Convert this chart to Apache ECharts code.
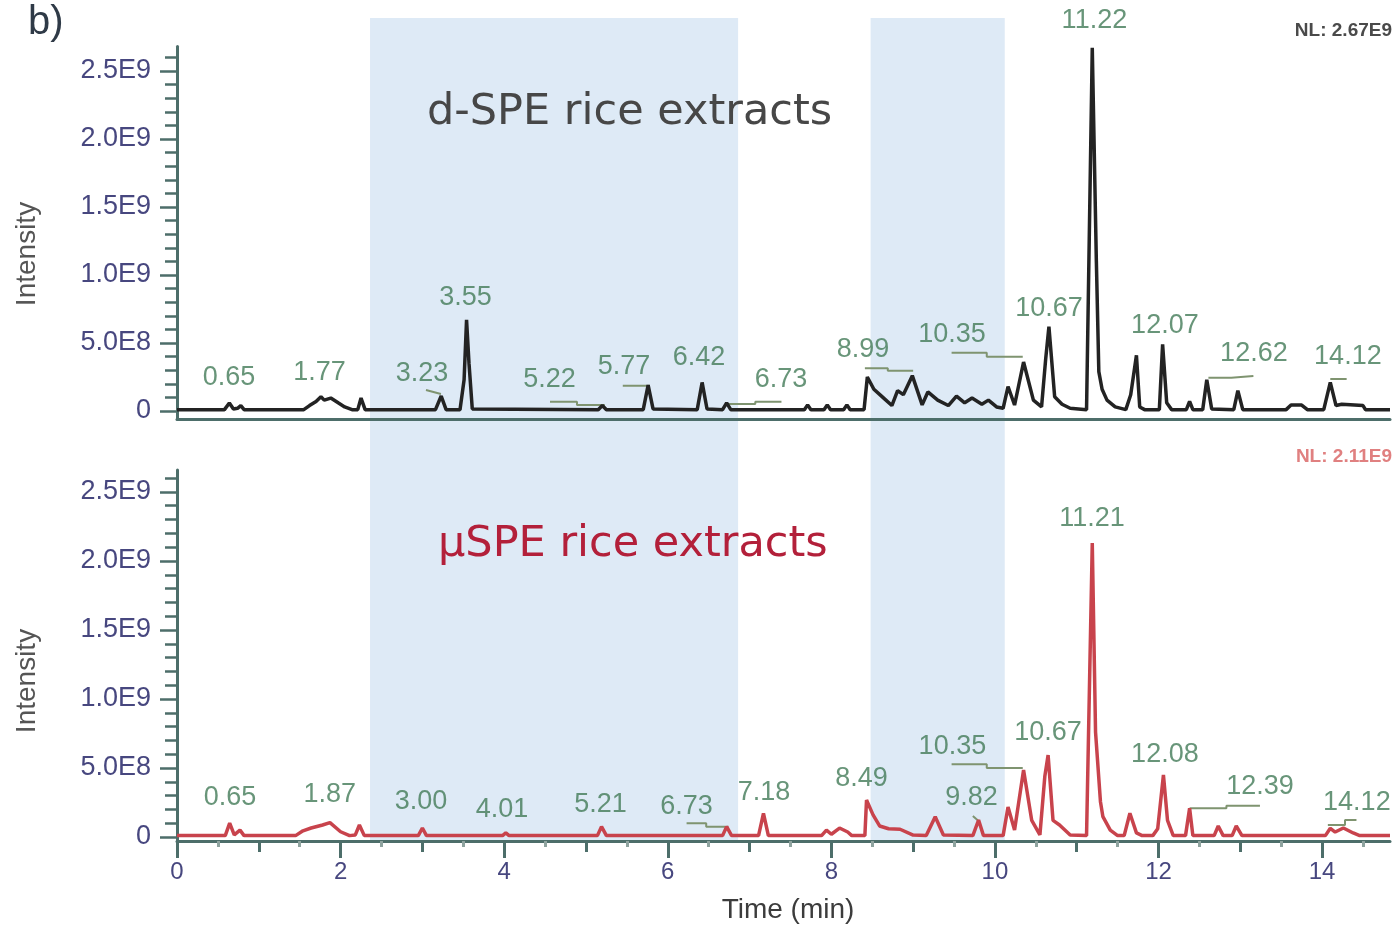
<!DOCTYPE html>
<html><head><meta charset="utf-8">
<script src="https://cdn.jsdelivr.net/npm/echarts@6/dist/echarts.min.js"></script>
<style>html,body{margin:0;padding:0;background:#fff}#c{width:1393px;height:930px}</style>
</head><body><div id="c"></div><script>
// ---------- data ----------
const xMin = 0, xMax = 14.83;
const xTickValues = [0, 2, 4, 6, 8, 10, 12, 14];
const xTickLabels = ['0', '2', '4', '6', '8', '10', '12', '14'];
const xOddTicks = [1, 3, 5, 7, 9, 11, 13];
const xHalfTicks = [0.5, 1.5, 2.5, 3.5, 4.5, 5.5, 6.5, 7.5, 8.5, 9.5, 10.5, 11.5, 12.5, 13.5, 14.5];
const yTickValues = [0, 5e8, 1e9, 1.5e9, 2e9, 2.5e9];
const yTickLabels = ['0', '5.0E8', '1.0E9', '1.5E9', '2.0E9', '2.5E9'];
const yMinorTicks = [1e8, 2e8, 3e8, 4e8, 6e8, 7e8, 8e8, 9e8, 1.1e9, 1.2e9, 1.3e9, 1.4e9, 1.6e9, 1.7e9, 1.8e9, 1.9e9, 2.1e9, 2.2e9, 2.3e9, 2.4e9, 2.6e9];
const bandRanges = [[2.36, 6.86], [8.48, 10.12]];

// d-SPE trace: [time (min), intensity]
const topTrace = [
 [0,0.1e8],[0.58,0.1e8],[0.64,0.59e8],[0.69,0.15e8],[0.74,0.2e8],[0.78,0.4e8],[0.82,0.1e8],
 [1.55,0.1e8],[1.62,0.4e8],[1.70,0.7e8],[1.76,1.05e8],[1.80,0.8e8],[1.88,0.95e8],[1.97,0.6e8],[2.05,0.3e8],[2.14,0.1e8],
 [2.21,0.1e8],[2.25,0.95e8],[2.30,0.1e8],[3.16,0.1e8],[3.23,1.1e8],[3.29,0.1e8],
 [3.46,0.1e8],[3.51,2.3e8],[3.54,6.7e8],[3.57,3.5e8],[3.61,0.15e8],
 [5.15,0.1e8],[5.20,0.4e8],[5.25,0.1e8],[5.70,0.1e8],[5.76,1.9e8],[5.82,0.15e8],
 [6.36,0.1e8],[6.42,2.1e8],[6.48,0.15e8],[6.67,0.1e8],[6.72,0.6e8],[6.77,0.1e8],
 [7.67,0.1e8],[7.71,0.45e8],[7.75,0.1e8],[7.91,0.1e8],[7.95,0.45e8],[7.99,0.1e8],[8.15,0.1e8],[8.19,0.45e8],[8.23,0.1e8],
 [8.40,0.1e8],[8.44,2.5e8],[8.52,1.6e8],[8.63,1.0e8],[8.74,0.4e8],[8.81,1.5e8],[8.88,1.2e8],[8.99,2.6e8],[9.11,0.45e8],
 [9.18,1.4e8],[9.30,0.8e8],[9.43,0.4e8],[9.53,1.1e8],[9.63,0.6e8],[9.72,0.95e8],[9.84,0.5e8],[9.92,0.8e8],[10.02,0.3e8],
 [10.10,0.2e8],[10.16,1.8e8],[10.24,0.44e8],[10.35,3.6e8],[10.47,0.8e8],[10.57,0.3e8],[10.62,3.8e8],[10.66,6.2e8],
 [10.73,1.05e8],[10.82,0.5e8],[10.92,0.2e8],[11.12,0.1e8],[11.19,26.7e8],[11.24,11.0e8],[11.27,2.9e8],[11.31,1.6e8],
 [11.37,0.8e8],[11.47,0.3e8],[11.60,0.1e8],[11.66,1.2e8],[11.73,4.1e8],[11.77,0.3e8],[11.83,0.1e8],
 [12.01,0.1e8],[12.05,4.9e8],[12.10,0.6e8],[12.16,0.1e8],[12.34,0.1e8],[12.38,0.7e8],[12.42,0.1e8],
 [12.54,0.1e8],[12.59,2.3e8],[12.65,0.15e8],[12.92,0.1e8],[12.97,1.5e8],[13.03,0.1e8],
 [13.56,0.1e8],[13.62,0.44e8],[13.75,0.44e8],[13.82,0.1e8],[14.02,0.1e8],[14.10,2.1e8],[14.17,0.4e8],
 [14.24,0.5e8],[14.50,0.4e8],[14.53,0.1e8],[14.83,0.1e8]
];
// µSPE trace
const bottomTrace = [
 [0,0.1e8],[0.59,0.1e8],[0.644,1.0e8],[0.70,0.15e8],[0.77,0.5e8],[0.82,0.1e8],
 [1.45,0.1e8],[1.54,0.45e8],[1.64,0.65e8],[1.78,0.87e8],[1.87,1.04e8],[2.0,0.38e8],[2.11,0.1e8],[2.18,0.15e8],[2.23,0.87e8],[2.29,0.1e8],
 [2.95,0.1e8],[3.0,0.65e8],[3.05,0.1e8],[3.98,0.1e8],[4.02,0.3e8],[4.06,0.1e8],
 [5.14,0.1e8],[5.19,0.75e8],[5.25,0.1e8],[6.67,0.1e8],[6.72,0.75e8],[6.78,0.1e8],
 [7.11,0.1e8],[7.17,1.72e8],[7.23,0.1e8],[7.88,0.1e8],[7.94,0.5e8],[8.0,0.2e8],[8.1,0.65e8],[8.2,0.36e8],[8.25,0.1e8],
 [8.41,0.1e8],[8.43,2.68e8],[8.51,1.6e8],[8.59,0.8e8],[8.70,0.6e8],[8.84,0.56e8],[9.0,0.14e8],[9.16,0.1e8],
 [9.27,1.47e8],[9.37,0.15e8],[9.73,0.1e8],[9.80,1.23e8],[9.86,0.1e8],[10.10,0.1e8],[10.16,2.17e8],[10.24,0.5e8],
 [10.35,4.85e8],[10.45,1.2e8],[10.55,0.15e8],[10.61,4.4e8],[10.65,5.94e8],[10.71,1.2e8],[10.79,0.87e8],[10.92,0.14e8],
 [11.12,0.1e8],[11.19,21.3e8],[11.23,7.6e8],[11.29,2.56e8],[11.32,1.47e8],[11.41,0.5e8],[11.50,0.1e8],
 [11.58,0.1e8],[11.65,1.72e8],[11.73,0.3e8],[11.80,0.1e8],[11.93,0.1e8],[11.99,0.6e8],[12.06,4.49e8],[12.11,1.2e8],[12.18,0.1e8],
 [12.33,0.1e8],[12.38,2.08e8],[12.42,0.1e8],[12.68,0.1e8],[12.73,0.8e8],[12.79,0.1e8],[12.90,0.1e8],[12.95,0.8e8],[13.02,0.1e8],
 [14.04,0.1e8],[14.1,0.63e8],[14.16,0.36e8],[14.26,0.65e8],[14.38,0.29e8],[14.46,0.1e8],[14.83,0.1e8]
];

const topLabelText = ['0.65','1.77','3.23','3.55','5.22','5.77','6.42','6.73','8.99','10.35','10.67','11.22','12.07','12.62','14.12'];
const topLabelTime = [0.636,1.742,2.995,3.527,4.554,5.465,6.381,7.384,8.386,9.474,10.66,11.216,12.078,13.166,14.315];
const topLabelIntensity = [2.43e8,2.83e8,2.79e8,8.31e8,2.28e8,3.27e8,3.93e8,2.28e8,4.49e8,5.59e8,7.54e8,28.68e8,6.29e8,4.23e8,4.0e8];

const bottomLabelText = ['0.65','1.87','3.00','4.01','5.21','6.73','7.18','8.49','9.82','10.35','10.67','11.21','12.08','12.39','14.12'];
const bottomLabelTime = [0.648,1.867,2.983,3.973,5.177,6.229,7.176,8.368,9.713,9.48,10.648,11.186,12.078,13.24,14.425];
const bottomLabelIntensity = [2.83e8,3.04e8,2.57e8,1.96e8,2.32e8,2.21e8,3.19e8,4.2e8,2.83e8,6.56e8,7.54e8,23.04e8,5.94e8,3.66e8,2.5e8];

const topLeaders = [
 [[3.044,1.54e8],[3.227,1.25e8]],
 [[4.56,0.68e8],[4.89,0.68e8],[4.89,0.44e8],[5.23,0.44e8]],
 [[5.45,1.86e8],[5.78,1.86e8]],
 [[6.72,0.51e8],[7.07,0.51e8],[7.07,0.68e8],[7.39,0.68e8]],
 [[8.41,3.14e8],[8.69,3.14e8],[8.69,2.96e8],[9.0,2.96e8]],
 [[9.47,4.29e8],[9.9,4.29e8],[9.9,3.99e8],[10.34,3.99e8]],
 [[12.61,2.45e8],[12.89,2.45e8],[12.89,2.57e8],[13.16,2.57e8]],
 [[14.1,2.35e8],[14.3,2.35e8]]
];
const bottomLeaders = [
 [[6.23,0.99e8],[6.47,0.99e8],[6.47,0.75e8],[6.74,0.75e8]],
 [[9.73,1.52e8],[9.80,1.16e8]],
 [[9.47,5.27e8],[9.9,5.27e8],[9.9,5.0e8],[10.34,5.0e8]],
 [[12.38,2.08e8],[12.83,2.08e8],[12.83,2.27e8],[13.24,2.27e8]],
 [[14.07,0.87e8],[14.28,0.87e8],[14.28,1.23e8],[14.42,1.23e8]]
];

// ---------- style ----------
const FONT = '"Liberation Sans", Arial, sans-serif';
const axisColor = '#4d6e6a';
const tickLabelColor = '#47477f';
const peakLabelColor = '#427a58';
const leaderColor = '#7f9470';

function withBreaks(lines) {
  const out = [];
  lines.forEach((seg, i) => { if (i) out.push([null, null]); seg.forEach(p => out.push(p)); });
  return out;
}
function yLabel(v) {
  for (let i = 0; i < yTickValues.length; i++) if (Math.abs(yTickValues[i] - v) < 1) return yTickLabels[i];
  return '';
}
function xLabel(v) {
  for (let i = 0; i < xTickValues.length; i++) if (Math.abs(xTickValues[i] - v) < 1e-6) return xTickLabels[i];
  return '';
}
function mainY(grid, min, max) {
  return {
    gridIndex: grid, type: 'value', min: min, max: max, position: 'left',
    axisLine: { show: true, onZero: false, lineStyle: { color: axisColor, width: 3 } },
    axisTick: { show: true, length: 17, customValues: yTickValues, lineStyle: { color: axisColor, width: 2.5 } },
    axisLabel: { show: true, customValues: yTickValues, formatter: yLabel, fontSize: 27, fontFamily: FONT,
                 color: tickLabelColor, margin: 26, padding: [0, 0, 8, 0] },
    splitLine: { show: false }
  };
}
function minorY(grid, min, max) {
  return {
    gridIndex: grid, type: 'value', min: min, max: max, position: 'left',
    axisLine: { show: false, onZero: false },
    axisTick: { show: true, length: 12, customValues: yMinorTicks, lineStyle: { color: axisColor, width: 2.5 } },
    axisLabel: { show: false }, splitLine: { show: false }
  };
}
function labelSeries(xi, yi, texts, times, vals) {
  return {
    type: 'scatter', xAxisIndex: xi, yAxisIndex: yi, symbolSize: 0, clip: false, silent: true, z: 6,
    label: { show: true, position: 'inside', formatter: '{b}', fontSize: 27, fontFamily: FONT, color: peakLabelColor },
    data: texts.map((s, i) => ({ name: s, value: [times[i], vals[i]] }))
  };
}
function leaderSeries(xi, yi, lines) {
  return {
    type: 'line', xAxisIndex: xi, yAxisIndex: yi, symbol: 'none', silent: true, connectNulls: false, z: 4,
    lineStyle: { color: leaderColor, width: 2 }, data: withBreaks(lines)
  };
}

const topYMin = -5.88e7, topYMax = 2.68e9;
const botYMin = -2.9e7, botYMax = 2.659e9;

const option = {
  animation: false,
  backgroundColor: '#ffffff',
  grid: [
    { left: 177, right: 3, top: 46.5, height: 372.5 },
    { left: 177, right: 3, top: 470, height: 371 },
    { left: 177, right: 3, top: 18, height: 823 }
  ],
  xAxis: [
    { gridIndex: 0, type: 'value', min: xMin, max: xMax, position: 'bottom',
      axisLine: { show: true, onZero: false, lineStyle: { color: axisColor, width: 3 } },
      axisTick: { show: false }, axisLabel: { show: false }, splitLine: { show: false } },
    { gridIndex: 1, type: 'value', min: xMin, max: xMax, position: 'bottom',
      axisLine: { show: true, onZero: false, lineStyle: { color: axisColor, width: 3 } },
      axisTick: { show: true, length: 17, customValues: xTickValues, lineStyle: { color: axisColor, width: 3 } },
      axisLabel: { show: true, customValues: xTickValues, formatter: xLabel, fontSize: 24, fontFamily: FONT, color: tickLabelColor, margin: 19 },
      splitLine: { show: false } },
    { gridIndex: 1, type: 'value', min: xMin, max: xMax, position: 'bottom',
      axisLine: { show: false, onZero: false },
      axisTick: { show: true, length: 11, customValues: xOddTicks, lineStyle: { color: axisColor, width: 3 } },
      axisLabel: { show: false }, splitLine: { show: false } },
    { gridIndex: 1, type: 'value', min: xMin, max: xMax, position: 'bottom',
      axisLine: { show: false, onZero: false },
      axisTick: { show: true, length: 6, customValues: xHalfTicks, lineStyle: { color: '#8fa39f', width: 3 } },
      axisLabel: { show: false }, splitLine: { show: false } },
    { gridIndex: 2, type: 'value', min: xMin, max: xMax, show: false }
  ],
  yAxis: [
    mainY(0, topYMin, topYMax),
    minorY(0, topYMin, topYMax),
    mainY(1, botYMin, botYMax),
    minorY(1, botYMin, botYMax),
    { gridIndex: 2, type: 'value', min: 0, max: 1, show: false }
  ],
  series: [
    { type: 'line', xAxisIndex: 4, yAxisIndex: 4, data: [[0, 0]], symbol: 'none', silent: true, z: -1,
      lineStyle: { opacity: 0 },
      markArea: { silent: true, z: -1, itemStyle: { color: '#deeaf6' },
        data: bandRanges.map(r => [{ xAxis: r[0] }, { xAxis: r[1] }]) } },
    { type: 'line', xAxisIndex: 0, yAxisIndex: 0, data: topTrace, symbol: 'none', silent: true, z: 5,
      lineStyle: { color: '#232323', width: 3.5 } },
    { type: 'line', xAxisIndex: 1, yAxisIndex: 2, data: bottomTrace, symbol: 'none', silent: true, z: 5,
      lineStyle: { color: '#c8434c', width: 3.5 } },
    leaderSeries(0, 0, topLeaders),
    leaderSeries(1, 2, bottomLeaders),
    labelSeries(0, 0, topLabelText, topLabelTime, topLabelIntensity),
    labelSeries(1, 2, bottomLabelText, bottomLabelTime, bottomLabelIntensity)
  ],
  graphic: [
    { type: 'text', x: 28, y: 23, z: 10, style: { text: 'b)', font: '40px ' + FONT, fill: '#2f3a47', align: 'left', verticalAlign: 'middle', textAlign: 'left', textVerticalAlign: 'middle' } },
    { type: 'text', x: 427, y: 113, z: 10, style: { text: 'd-SPE rice extracts', font: '43px "DejaVu Sans", sans-serif', fill: '#474747', align: 'left', verticalAlign: 'middle', textAlign: 'left', textVerticalAlign: 'middle' } },
    { type: 'text', x: 438, y: 545, z: 10, style: { text: 'µSPE rice extracts', font: '43px "DejaVu Sans", sans-serif', fill: '#b3203a', align: 'left', verticalAlign: 'middle', textAlign: 'left', textVerticalAlign: 'middle' } },
    { type: 'text', x: 1392, y: 31, z: 10, style: { text: 'NL: 2.67E9', font: 'bold 19px ' + FONT, fill: '#4a4a4a', align: 'right', verticalAlign: 'middle', textAlign: 'right', textVerticalAlign: 'middle' } },
    { type: 'text', x: 1392, y: 457, z: 10, style: { text: 'NL: 2.11E9', font: 'bold 19px ' + FONT, fill: '#e08080', align: 'right', verticalAlign: 'middle', textAlign: 'right', textVerticalAlign: 'middle' } },
    { type: 'text', x: 27, y: 254, rotation: Math.PI / 2, z: 10, style: { text: 'Intensity', font: '28px ' + FONT, fill: '#555555', align: 'center', verticalAlign: 'middle', textAlign: 'center', textVerticalAlign: 'middle' } },
    { type: 'text', x: 27, y: 681, rotation: Math.PI / 2, z: 10, style: { text: 'Intensity', font: '28px ' + FONT, fill: '#555555', align: 'center', verticalAlign: 'middle', textAlign: 'center', textVerticalAlign: 'middle' } },
    { type: 'text', x: 788, y: 910, z: 10, style: { text: 'Time (min)', font: '28px ' + FONT, fill: '#3c3c3c', align: 'center', verticalAlign: 'middle', textAlign: 'center', textVerticalAlign: 'middle' } }
  ]
};
const chart = echarts.init(document.getElementById('c'), null, { renderer: 'canvas' });
chart.setOption(option);
</script></body></html>
